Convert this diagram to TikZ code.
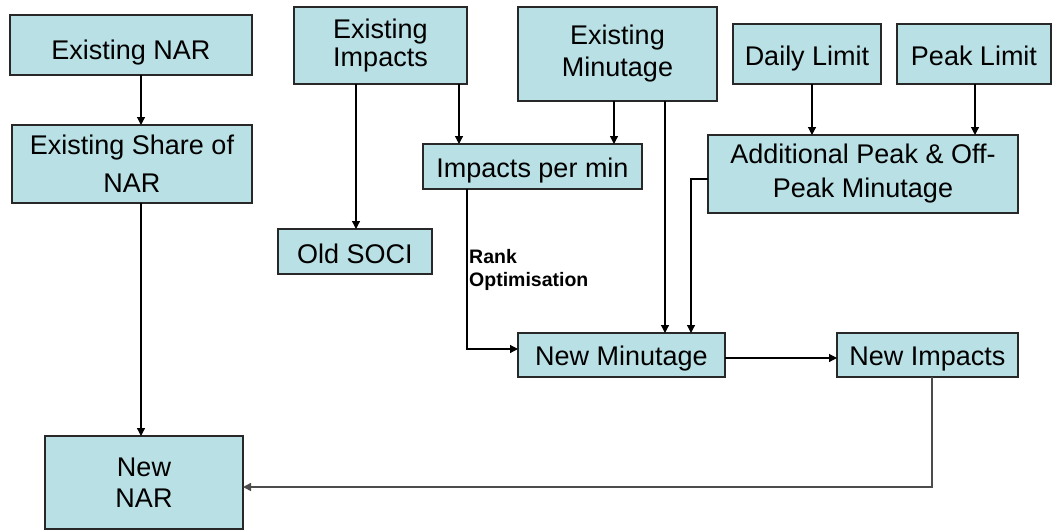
\documentclass[tikz,border=0pt]{standalone}
\usepackage{fontspec}
\setmainfont{Liberation Sans}
\usetikzlibrary{arrows.meta}
\definecolor{boxfill}{RGB}{185,224,228}
\definecolor{boxline}{RGB}{40,40,40}
\begin{document}
\begin{tikzpicture}[x=1pt,y=-1pt,
  box/.style={draw=boxline,fill=boxfill,line width=1.3pt,inner sep=0pt,outer sep=0pt,
    align=center,font=\fontsize{27}{30}\selectfont},
  oneline/.style={text height=#1,text depth=0pt},
  arr/.style={draw=black,line width=1.2pt,-{Triangle[length=8pt,width=8pt]}},
  link/.style={draw=black!70,line width=1.5pt,-{Triangle[length=8pt,width=8pt]}},
  lbl/.style={font=\bfseries\fontsize{19.5}{23}\selectfont,align=left,inner sep=0pt}]
\useasboundingbox (0,0) rectangle (1052,530);
\node[box,oneline=29.3pt,minimum width=242pt,minimum height=60pt] (enar) at (131,45) {Existing NAR};
\node[box,minimum width=240pt,minimum height=78pt,font=\fontsize{27}{38}\selectfont] (eshare) at (132,164) {Existing Share of\\NAR};
\node[box,minimum width=173pt,minimum height=77pt,font=\fontsize{27}{28}\selectfont] (eimp) at (380.5,45.5) {Existing\\Impacts};
\node[box,oneline=24.3pt,minimum width=154pt,minimum height=45pt] (soci) at (355,251.5) {Old SOCI};
\node[box,oneline=21.3pt,minimum width=219pt,minimum height=45pt] (ipm) at (532.5,166.5) {Impacts per min};
\node[box,minimum width=199pt,minimum height=94pt,font=\fontsize{27}{32}\selectfont] (emin) at (617.5,54) {Existing\\Minutage};
\node[box,oneline=23.3pt,minimum width=148pt,minimum height=60pt] (daily) at (807,54) {Daily Limit};
\node[box,oneline=23.3pt,minimum width=154pt,minimum height=60pt] (peak) at (974,54) {Peak Limit};
\node[box,minimum width=310pt,minimum height=78pt,font=\fontsize{27}{34}\selectfont] (add) at (863,174) {Additional Peak \& Off-\\Peak Minutage};
\node[box,oneline=21.3pt,minimum width=207pt,minimum height=44pt] (nmin) at (621.5,355) {New Minutage};
\node[box,oneline=21.3pt,minimum width=181pt,minimum height=44pt] (nimp) at (927.5,355) {New Impacts};
\node[box,minimum width=198pt,minimum height=93pt,font=\fontsize{27}{31}\selectfont] (nnar) at (144,482.5) {New\\NAR};
\node[lbl,anchor=north west] (rank) at (469,249) {Rank\\Optimisation};
\draw[arr] (enar.south -| 141,0) -- (eshare.north -| 141,0);
\draw[arr] (eshare.south -| 141,0) -- (nnar.north -| 141,0);
\draw[arr] (eimp.south -| 356,0) -- (soci.north -| 356,0);
\draw[arr] (eimp.south -| 459,0) -- (ipm.north -| 459,0);
\draw[arr] (emin.south -| 614,0) -- (ipm.north -| 614,0);
\draw[arr] (emin.south -| 665,0) -- (nmin.north -| 665,0);
\draw[arr] (daily.south -| 812,0) -- (add.north -| 812,0);
\draw[arr] (peak.south -| 975,0) -- (add.north -| 975,0);
\draw[arr] (add.west |- 0,179) -- (691,179) -- (nmin.north -| 691,0);
\draw[arr] (ipm.south -| 467,0) -- (467,349) -- (nmin.west |- 0,349);
\draw[arr] (nmin.east |- 0,358) -- (nimp.west |- 0,358);
\draw[link] (nimp.south -| 932,0) -- (932,487) -- (nnar.east |- 0,487);
\end{tikzpicture}
\end{document}
